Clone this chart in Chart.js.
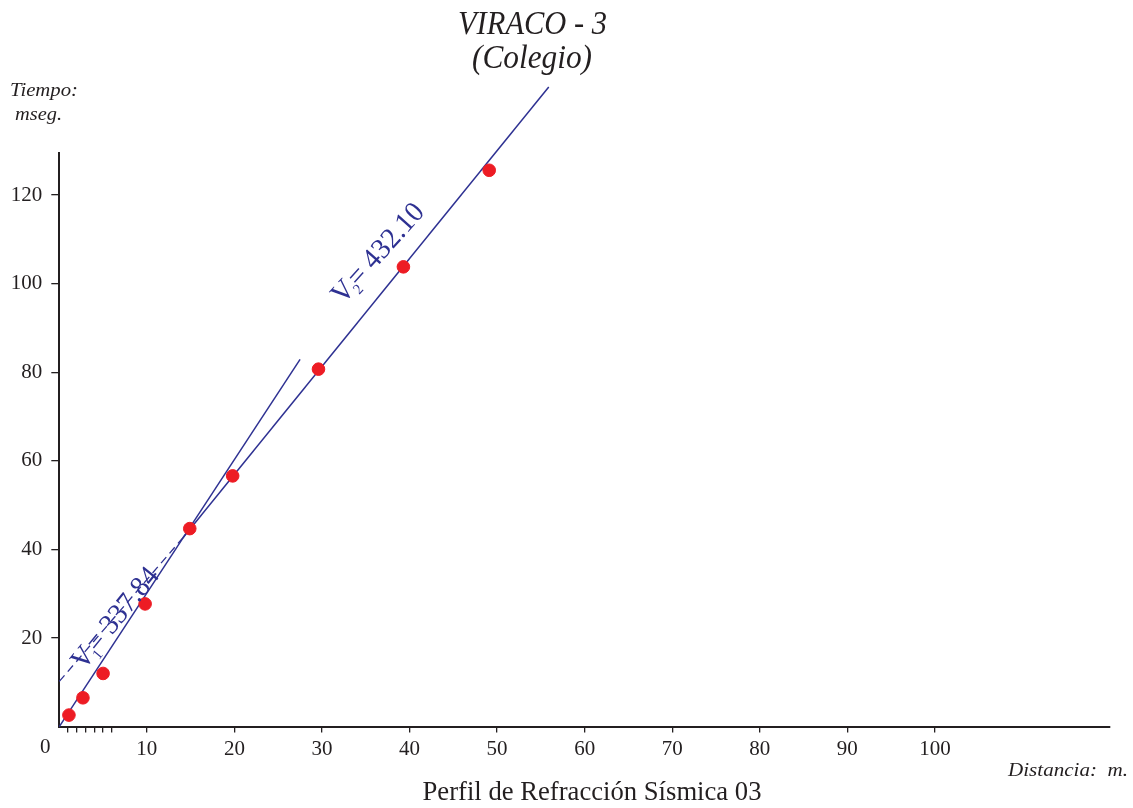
<!DOCTYPE html>
<html>
<head>
<meta charset="utf-8">
<title>VIRACO - 3</title>
<script src="https://cdn.jsdelivr.net/npm/chart.js@4.4.1/dist/chart.umd.min.js"></script>
<style>
    html, body { margin: 0; padding: 0; background: #fff; }
    #refraction-chart { display: block; }
</style>
</head>
<body>
<canvas id="refraction-chart" width="1133" height="808"></canvas>
<script>
// lecturas del dromocrono (distancia en m, tiempo en mseg)
var distance_values = [1.1, 2.7, 5.0, 9.8, 14.9, 19.8, 29.6, 39.3, 49.1];
var time_values = [2.6, 6.5, 12.0, 27.7, 44.7, 56.6, 80.7, 103.8, 125.6];

// rectas de ajuste
var v1_line_x = [0, 27.5];
var v1_line_y = [0, 82.9];
var v2_line_x = [14.1, 55.9];
var v2_line_y = [42.6, 144.4];
var v2_dash_x = [0, 14.1];
var v2_dash_y = [10.2, 42.6];

var x_tick_values = [1, 2, 3, 4, 5, 6, 10, 20, 30, 40, 50, 60, 70, 80, 90, 100];
var y_tick_values = [20, 40, 60, 80, 100, 120];

var v1_label = '337.84';
var v2_label = '432.10';

var SERIF = "'Liberation Serif', 'Times New Roman', serif";
var INK = '#231f20';
var BLUE = '#2e3192';

function toPoints(xs, ys) {
    var pts = [];
    for (var i = 0; i < xs.length; i++) {
        pts.push({ x: xs[i], y: ys[i] });
    }
    return pts;
}

function fitText(ctx, text, x, y, font, width, align) {
    ctx.font = font;
    var w = ctx.measureText(text).width;
    ctx.save();
    ctx.translate(x, y);
    ctx.scale(width / w, 1);
    ctx.textAlign = align;
    ctx.textBaseline = 'alphabetic';
    ctx.fillText(text, 0, 0);
    ctx.restore();
}

// "V" + subindice + "= valor", girado sobre la recta, ancho fijo
function velocityLabel(ctx, px, py, angle, sub, value, width) {
    var big = '29px ' + SERIF;
    var small = '15px ' + SERIF;
    ctx.font = big;
    var wV = ctx.measureText('V').width;
    var wRest = ctx.measureText('= ' + value).width;
    ctx.font = small;
    var wSub = ctx.measureText(sub).width;
    var total = wV + wSub * 0.4 + wRest;

    ctx.save();
    ctx.translate(px, py);
    ctx.rotate(angle);
    ctx.scale(width / total, 1);
    ctx.fillStyle = BLUE;
    ctx.textBaseline = 'middle';
    ctx.textAlign = 'left';
    var x0 = -total / 2;
    ctx.font = big;
    ctx.fillText('V', x0, 0);
    ctx.font = small;
    ctx.fillText(sub, x0 + wV - 2, 9);
    ctx.font = big;
    ctx.fillText('= ' + value, x0 + wV + wSub * 0.4, 0);
    ctx.restore();
}

var refractionText = {
    id: 'refractionText',
    afterDraw: function (chart) {
        var ctx = chart.ctx;
        var xs = chart.scales.x;
        var ys = chart.scales.y;
        var area = chart.chartArea;

        ctx.save();
        ctx.fillStyle = INK;

        fitText(ctx, 'VIRACO - 3', 532.5, 34, 'italic 33px ' + SERIF, 149, 'center');
        fitText(ctx, '(Colegio)', 532, 68, 'italic 33px ' + SERIF, 120, 'center');
        fitText(ctx, 'Tiempo:', 10, 96, 'italic 18px ' + SERIF, 68, 'left');
        fitText(ctx, 'mseg.', 15, 120, 'italic 18px ' + SERIF, 47, 'left');
        fitText(ctx, 'Distancia:  m.', 1128, 776, 'italic 19px ' + SERIF, 120, 'right');
        fitText(ctx, 'Perfil de Refracción Sísmica 03', 592, 800, '27px ' + SERIF, 339, 'center');

        // el cero del eje x va un poco a la izquierda del origen
        ctx.font = '21px ' + SERIF;
        ctx.textAlign = 'center';
        ctx.textBaseline = 'top';
        ctx.fillText('0', xs.getPixelForValue(0) - 14, area.bottom + 10);

        // etiqueta V1 sobre la recta discontinua
        var ax = xs.getPixelForValue(v2_dash_x[0]);
        var ay = ys.getPixelForValue(v2_dash_y[0]);
        var bx = xs.getPixelForValue(v2_dash_x[1]);
        var by = ys.getPixelForValue(v2_dash_y[1]);
        var a1 = Math.atan2(by - ay, bx - ax) - 0.03;
        var t1 = 0.45;
        velocityLabel(ctx, ax + (bx - ax) * t1 + 1, ay + (by - ay) * t1 + 2, a1, '1', v1_label, 122);

        // etiqueta V2, desplazada por encima de su recta
        var cx = xs.getPixelForValue(v2_line_x[0]);
        var cy = ys.getPixelForValue(v2_line_y[0]);
        var dx = xs.getPixelForValue(v2_line_x[1]);
        var dy = ys.getPixelForValue(v2_line_y[1]);
        var a2 = Math.atan2(dy - cy, dx - cx) + 0.05;
        var t2 = 0.59;
        var nx = Math.sin(a2), ny = -Math.cos(a2);
        velocityLabel(ctx, cx + (dx - cx) * t2 + nx * 27, cy + (dy - cy) * t2 + ny * 27, a2, '2', v2_label, 124);

        ctx.restore();
    }
};

var ctx = document.getElementById('refraction-chart');
var RefractionChart = new Chart(ctx, {
    type: 'scatter',
    data: {
        datasets: [{
            label: 'Lecturas',
            data: toPoints(distance_values, time_values),
            backgroundColor: '#ed1c24',
            borderColor: '#ed1c24',
            pointRadius: 6.3,
            pointHoverRadius: 6.3,
            order: 0
        }, {
            label: 'V1',
            data: toPoints(v1_line_x, v1_line_y),
            showLine: true,
            pointRadius: 0,
            borderColor: BLUE,
            borderWidth: 1.5,
            clip: false,
            order: 1
        }, {
            label: 'V2',
            data: toPoints(v2_line_x, v2_line_y),
            showLine: true,
            pointRadius: 0,
            borderColor: BLUE,
            borderWidth: 1.5,
            clip: false,
            order: 1
        }, {
            label: 'V2 prolongada',
            data: toPoints(v2_dash_x, v2_dash_y),
            showLine: true,
            pointRadius: 0,
            borderColor: BLUE,
            borderWidth: 1.3,
            borderDash: [8, 5],
            clip: false,
            order: 1
        }]
    },
    plugins: [refractionText],
    options: {
        responsive: false,
        animation: false,
        layout: {
            padding: { left: 0, right: 23, top: 153, bottom: 0 }
        },
        plugins: {
            legend: { display: false },
            tooltip: { enabled: false },
            title: { display: false }
        },
        scales: {
            x: {
                type: 'linear',
                min: 0,
                max: 120,
                afterFit: function (scale) { scale.height = 81.4; },
                afterBuildTicks: function (scale) {
                    scale.ticks = x_tick_values.map(function (v) { return { value: v }; });
                },
                border: { display: true, color: INK, width: 2 },
                grid: {
                    drawOnChartArea: false,
                    drawTicks: true,
                    tickLength: 6,
                    color: INK,
                    lineWidth: 1.3
                },
                ticks: {
                    autoSkip: false,
                    maxRotation: 0,
                    padding: 4,
                    color: INK,
                    font: { family: SERIF, size: 21 },
                    callback: function (value) {
                        return value % 10 === 0 ? value : '';
                    }
                }
            },
            y: {
                type: 'linear',
                min: 0,
                max: 129.5,
                afterFit: function (scale) { scale.width = 59.3; },
                afterBuildTicks: function (scale) {
                    scale.ticks = y_tick_values.map(function (v) { return { value: v }; });
                },
                border: { display: true, color: INK, width: 2 },
                grid: {
                    drawOnChartArea: false,
                    drawTicks: true,
                    tickLength: 8,
                    color: INK,
                    lineWidth: 1.3
                },
                ticks: {
                    autoSkip: false,
                    padding: 9,
                    color: INK,
                    font: { family: SERIF, size: 21 }
                }
            }
        }
    }
});
</script>
</body>
</html>
